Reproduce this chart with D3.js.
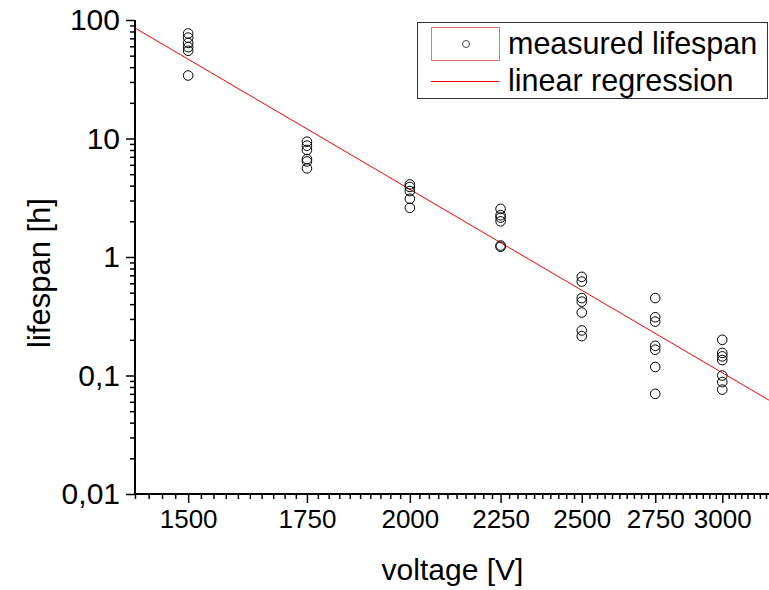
<!DOCTYPE html>
<html>
<head>
<meta charset="utf-8">
<script src="https://cdn.jsdelivr.net/npm/d3@7"></script>
<style>
  html, body { margin: 0; padding: 0; background: #fff; }
  svg { display: block; }
  text { font-family: "Liberation Sans", Arial, sans-serif; fill: #000; }
</style>
</head>
<body>
<svg id="chart" width="769" height="590"></svg>
<script>
// ---- data ----
const voltages = [1500, 1750, 2000, 2250, 2500, 2750, 3000];
const lifespans = [
  [77, 71, 64, 59, 55, 34],
  [9.4, 8.7, 8.0, 6.7, 6.4, 5.6],
  [4.1, 3.9, 3.6, 3.1, 2.6],
  [2.55, 2.25, 2.15, 2.0, 1.25, 1.22],
  [0.68, 0.62, 0.45, 0.42, 0.34, 0.24, 0.215],
  [0.45, 0.31, 0.285, 0.178, 0.165, 0.118, 0.07],
  [0.2, 0.155, 0.145, 0.135, 0.1, 0.088, 0.076]
];
// linear regression in log-log space: log10(L) = regIntercept + regSlope * log10(V)
const regSlope = -8.79;
const regIntercept = 29.587;
const xTickValues = [1500, 1750, 2000, 2250, 2500, 2750, 3000];
const yTickValues = [100, 10, 1, 0.1, 0.01];
const yTickLabels = ["100", "10", "1", "0,1", "0,01"];
const xDomain = [1400, 3200];
const yDomain = [0.01, 100];
const xMinorStep = 25;
const seriesNames = ["measured lifespan", "linear regression"];
const xTitle = "voltage [V]";
const yTitle = "lifespan [h]";

(function () {
// ---- layout ----
const svg = d3.select("#chart");
const mLeft = 135, mRight = 772, mTop = 20, mBottom = 494;

const x = d3.scaleLog().domain(xDomain).range([mLeft, mRight]);
const y = d3.scaleLog().domain(yDomain).range([mBottom, mTop]);

svg.append("defs").append("clipPath").attr("id", "clip")
  .append("rect").attr("x", mLeft).attr("y", mTop - 10).attr("width", mRight - mLeft).attr("height", mBottom - mTop + 10);

// regression line
const regLine = xDomain.map(v => [v, Math.pow(10, regIntercept + regSlope * Math.log10(v))]);
svg.append("path")
  .datum(regLine)
  .attr("clip-path", "url(#clip)")
  .attr("fill", "none")
  .attr("stroke", "#ff0000")
  .attr("stroke-width", 1)
  .attr("d", d3.line().x(d => x(d[0])).y(d => y(d[1])));

// points
const pts = [];
voltages.forEach((v, i) => lifespans[i].forEach(l => pts.push([v, l])));
svg.append("g").selectAll("circle").data(pts).join("circle")
  .attr("cx", d => x(d[0]))
  .attr("cy", d => y(d[1]))
  .attr("r", 4.8)
  .attr("fill", "none")
  .attr("stroke", "#000")
  .attr("stroke-width", 1);

// y axis
const yMinor = [];
for (let e = -2; e < 2; e++) for (let m = 2; m <= 9; m++) yMinor.push(m * Math.pow(10, e));
const yAxisMinor = d3.axisLeft(y).tickValues(yMinor).tickSize(5).tickFormat("");
const yAxisMajor = d3.axisLeft(y).tickValues(yTickValues).tickSize(9)
  .tickFormat((d, i) => yTickLabels[i]).tickPadding(6);

const gyMinor = svg.append("g").attr("transform", `translate(${mLeft},0)`).call(yAxisMinor);
const gy = svg.append("g").attr("transform", `translate(${mLeft},0)`).call(yAxisMajor);

// x axis
const xMinor = d3.range(xDomain[0], xDomain[1] + 1, xMinorStep).filter(v => !xTickValues.includes(v));
const xAxisMinor = d3.axisBottom(x).tickValues(xMinor).tickSize(5).tickFormat("");
const xAxisMajor = d3.axisBottom(x).tickValues(xTickValues).tickSize(9)
  .tickFormat(d3.format("d")).tickPadding(7);
const gxMinor = svg.append("g").attr("transform", `translate(0,${mBottom})`).call(xAxisMinor);
const gx = svg.append("g").attr("transform", `translate(0,${mBottom})`).call(xAxisMajor);

[gyMinor, gy, gxMinor, gx].forEach(g => {
  g.select(".domain").attr("stroke", "#000").attr("stroke-width", 2);
  g.selectAll(".tick line").attr("stroke", "#000").attr("stroke-width", 1.5);
});
gy.selectAll(".domain").attr("d", `M0,${mTop}V${mBottom}`);
gyMinor.selectAll(".domain").attr("d", `M0,${mTop}V${mBottom}`);
gx.selectAll(".domain").attr("d", `M${mLeft},0H${mRight}`);
gxMinor.selectAll(".domain").attr("d", `M${mLeft},0H${mRight}`);

gy.selectAll(".tick text").attr("font-size", 30).attr("font-family", "Liberation Sans, Arial, sans-serif");
gx.selectAll(".tick text").attr("font-size", 26).attr("font-family", "Liberation Sans, Arial, sans-serif");

// axis titles
svg.append("text")
  .attr("x", (mLeft + mRight) / 2 - 1)
  .attr("y", 580)
  .attr("text-anchor", "middle")
  .attr("font-size", 30)
  .text(xTitle);

svg.append("text")
  .attr("transform", `translate(50,273) rotate(-90)`)
  .attr("text-anchor", "middle")
  .attr("font-size", 31)
  .text(yTitle);

// legend
const lg = svg.append("g");
lg.append("rect").attr("x", 417.5).attr("y", 22.5).attr("width", 350).attr("height", 76)
  .attr("fill", "#fff").attr("stroke", "#333").attr("stroke-width", 1);
lg.append("rect").attr("x", 431.5).attr("y", 27.5).attr("width", 68).attr("height", 33)
  .attr("fill", "none").attr("stroke", "#f07070").attr("stroke-width", 1);
lg.append("circle").attr("cx", 466).attr("cy", 44).attr("r", 3.5)
  .attr("fill", "none").attr("stroke", "#444").attr("stroke-width", 1);
lg.append("line").attr("x1", 431).attr("x2", 499).attr("y1", 81.5).attr("y2", 81.5)
  .attr("stroke", "#ff0000").attr("stroke-width", 1);
lg.append("text").attr("x", 508).attr("y", 54).attr("font-size", 30.5).text(seriesNames[0]);
lg.append("text").attr("x", 508).attr("y", 91).attr("font-size", 30.5).text(seriesNames[1]);
})();
</script>
</body>
</html>
